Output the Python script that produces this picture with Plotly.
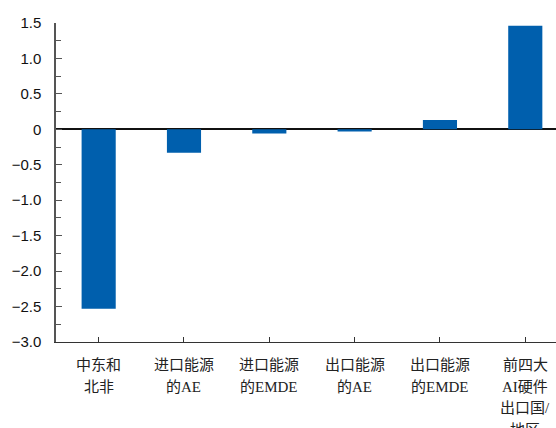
import plotly.graph_objects as go

# Data
categories = ["中东和北非", "进口能源的AE", "进口能源的EMDE", "出口能源的AE", "出口能源的EMDE", "前四大AI硬件出口国/地区"]
label_lines = [
    ["中东和", "北非"],
    ["进口能源", "的AE"],
    ["进口能源", "的EMDE"],
    ["出口能源", "的AE"],
    ["出口能源", "的EMDE"],
    ["前四大", "AI硬件", "出口国/", "地区"],
]
values = [-2.53, -0.33, -0.06, -0.03, 0.13, 1.46]
y_tickvals = [1.5, 1.0, 0.5, 0, -0.5, -1.0, -1.5, -2.0, -2.5, -3.0]
y_ticktext = ["1.5", "1.0", "0.5", "0", "\u22120.5", "\u22121.0", "\u22121.5", "\u22122.0", "\u22122.5", "\u22123.0"]

BAR = "#005FAD"
SERIF = "Liberation Serif, Noto Sans CJK SC"
SANS = "Liberation Sans, Arial"

x_idx = list(range(len(categories)))

fig = go.Figure(
    go.Bar(x=x_idx, y=values, width=0.40, marker=dict(color=BAR, line=dict(width=0)))
)

# category labels, drawn line by line below the axis
annotations = []
for i, lines in enumerate(label_lines):
    for j, txt in enumerate(lines):
        annotations.append(dict(
            x=i, xref="x", y=0, yref="paper", yanchor="middle",
            yshift=-23 - 21.6 * j, text=txt, showarrow=False,
            font=dict(family=SERIF, size=15, color="#222"),
        ))

fig.update_layout(
    width=556, height=428,
    margin=dict(l=56, r=0, t=23, b=86),
    paper_bgcolor="white", plot_bgcolor="white",
    showlegend=False,
    annotations=annotations,
    xaxis=dict(
        range=[-0.5, 5.36], tickvals=x_idx, showticklabels=False,
        ticks="inside", ticklen=5, tickcolor="#333", tickwidth=1,
        showline=True, linecolor="#333", linewidth=1.3, showgrid=False,
        zeroline=False,
    ),
    yaxis=dict(
        range=[-3.0, 1.5], tickvals=y_tickvals, ticktext=y_ticktext,
        ticks="inside", ticklen=6, tickcolor="#555", tickwidth=1.3,
        minor=dict(ticks="inside", dtick=0.25, tick0=0, ticklen=5, tickcolor="#555", tickwidth=1.3, showgrid=False),
        showline=True, linecolor="#555", linewidth=1.5, showgrid=False,
        zeroline=True, zerolinecolor="#111", zerolinewidth=1.5,
        tickfont=dict(family=SANS, size=15, color="#111"),
        ticklabelstandoff=10,
    ),
)

fig.write_html("out.html")
